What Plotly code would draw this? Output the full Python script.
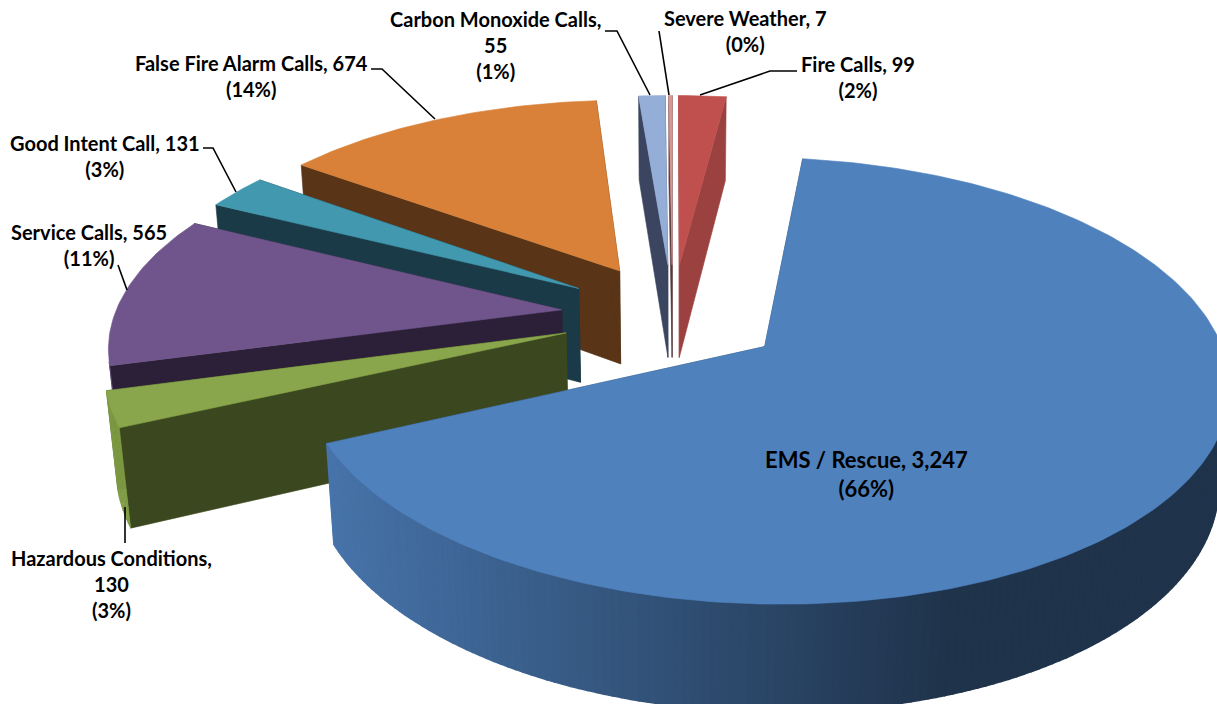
import math
import plotly.graph_objects as go

categories = ["Fire Calls", "EMS / Rescue", "Hazardous Conditions", "Service Calls",
              "Good Intent Call", "False Fire Alarm Calls", "Carbon Monoxide Calls", "Severe Weather"]
values = [99, 3247, 130, 565, 131, 674, 55, 7]
top_colors = ["#c0504d", "#4f81bd", "#8aa64c", "#70558c", "#4198af", "#d98138", "#95aed8", "#d99694"]
side_colors = ["#9b4240", "#2b4666", "#3b481f", "#2c2038", "#1a3a47", "#593416", "#3b4560", "#5a3a3a"]
wall_colors = ["#9b4240", "#4f81bd", "#7e9a43", "#5a4470", "#35798c", "#ae672d", "#778bad", "#ad7876"]
labels = [
    ("Fire Calls, 99<br>(2%)", 858, 77, 20),
    ("EMS / Rescue, 3,247<br>(66%)", 866, 474, 22),
    ("Hazardous Conditions,<br>130<br>(3%)", 111, 584, 20),
    ("Service Calls, 565<br>(11%)", 89, 245, 20),
    ("Good Intent Call, 131<br>(3%)", 105, 156, 20),
    ("False Fire Alarm Calls, 674<br>(14%)", 251, 76, 20),
    ("Carbon Monoxide Calls,<br>55<br>(1%)", 495, 45, 20),
    ("Severe Weather, 7<br>(0%)", 745, 31, 20),
]
leaders = [
    [(797, 71), (770, 71), (700, 95)],
    [(125, 543), (125, 507)],
    [(118, 265), (127, 290)],
    [(203, 148), (213, 148), (236, 192)],
    [(371, 69), (382, 69), (435, 119)],
    [(605, 31), (617, 31), (650, 95)],
    [(659, 31), (669, 95)],
]

CX, CY = 672.6, 315
F, D = 2638, 5.9
ELEV = math.radians(27.8)
EXPL = 0.25
H = 0.245
START = 0.0
S, C = math.sin(ELEV), math.cos(ELEV)


def project(x, y, z):
    w = D + y * C - z * S
    return CX + F * x / w, CY - F * (y * S + z * C) / w


def polar(a, r=1.0):
    return r * math.sin(a), r * math.cos(a)


def shade(hexc, k):
    rgb = [int(hexc[i:i + 2], 16) for i in (1, 3, 5)]
    return "rgb(" + ",".join(str(int(min(255, v * k))) for v in rgb) + ")"


def area(pts):
    return sum(pts[j][0] * pts[(j + 1) % len(pts)][1] - pts[(j + 1) % len(pts)][0] * pts[j][1]
               for j in range(len(pts)))


fig = go.Figure()


def poly(pts, color, lw=0.6):
    fig.add_trace(go.Scatter(x=[p[0] for p in pts] + [pts[0][0]], y=[p[1] for p in pts] + [pts[0][1]],
                             mode="lines", fill="toself", fillcolor=color,
                             line=dict(color=color, width=lw), hoverinfo="skip", showlegend=False))


total = sum(values)
slices = []
a = math.radians(START)
for i, v in enumerate(values):
    span = 2 * math.pi * v / total
    slices.append((i, a, a + span))
    a += span
slices.sort(key=lambda t: -math.cos((t[1] + t[2]) / 2))

for i, a0, a1 in slices:
    mid = (a0 + a1) / 2
    ox, oy = polar(mid, EXPL)
    n = max(2, int(math.degrees(a1 - a0) / 1.0))
    angs = [a0 + (a1 - a0) * k / n for k in range(n + 1)]
    rim = [(ox + polar(t)[0], oy + polar(t)[1]) for t in angs]
    for e in (rim[0], rim[-1]):
        poly([project(ox, oy, 0), project(e[0], e[1], 0), project(e[0], e[1], -H), project(ox, oy, -H)],
             side_colors[i])
    segs = sorted(range(n), key=lambda k: -(rim[k][1] + rim[k + 1][1]))
    for k in segs:
        p, q = rim[k], rim[k + 1]
        quad = [project(*p, 0), project(*q, 0), project(*q, -H), project(*p, -H)]
        if area(quad) >= 0:
            continue
        if i == 1:
            tt = min(1, max(0, (quad[0][0] - 330) / 620))
            col = shade(wall_colors[i], 0.90 - 0.50 * tt)
            poly(quad, col, 1.6)
        else:
            poly(quad, wall_colors[i])
    poly([project(ox, oy, 0)] + [project(x, y, 0) for x, y in rim], top_colors[i])

for pts in leaders:
    fig.add_trace(go.Scatter(x=[p[0] for p in pts], y=[p[1] for p in pts], mode="lines",
                             line=dict(color="black", width=1.6), hoverinfo="skip", showlegend=False))

annotations = [dict(x=x, y=y, text="<b>" + t + "</b>", showarrow=False, xanchor="center", yanchor="middle",
                    font=dict(family="Lato", size=s, color="black"), align="center")
               for t, x, y, s in labels]

fig.update_layout(width=1217, height=704, margin=dict(l=0, r=0, t=0, b=0), autosize=False,
                  paper_bgcolor="white", plot_bgcolor="white", annotations=annotations,
                  xaxis=dict(range=[0, 1217], visible=False, fixedrange=True),
                  yaxis=dict(range=[704, 0], visible=False, fixedrange=True))
fig.write_html("out.html", post_script="document.body.style.margin='0';document.documentElement.style.overflow='hidden';",
               config={"displayModeBar": False})
